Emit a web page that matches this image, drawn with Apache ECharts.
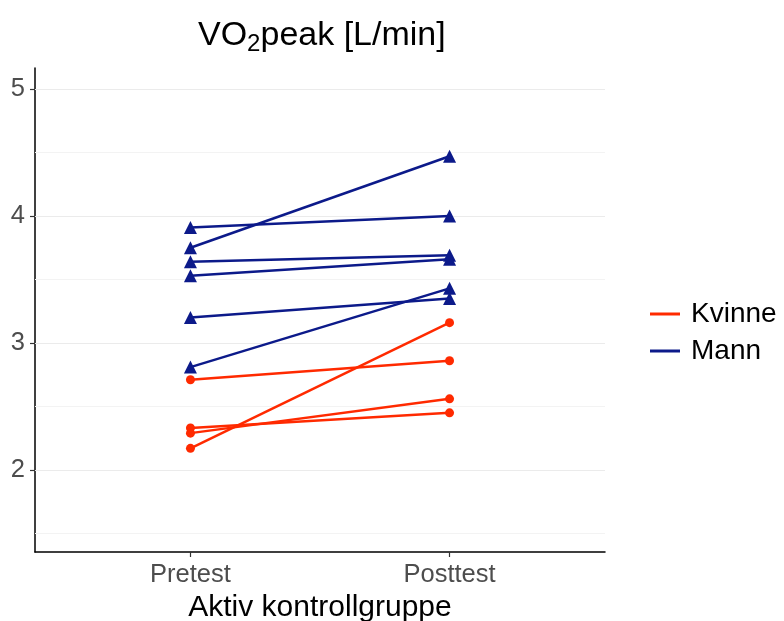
<!DOCTYPE html>
<html>
<head>
<meta charset="utf-8">
<script src="https://cdn.jsdelivr.net/npm/echarts@6/dist/echarts.min.js"></script>
<style>html,body{margin:0;padding:0;background:#fff}#c{width:784px;height:621px}</style>
</head>
<body>
<div id="c"></div>
<script>
var categories = ['Pretest', 'Posttest'];
var groups = ['Kvinne', 'Mann'];
var kvinnePre = [2.71, 2.17, 2.33, 2.29];
var kvinnePost = [2.86, 3.16, 2.45, 2.56];
var mannPre = [3.91, 3.75, 3.64, 3.53, 3.20, 2.81];
var mannPost = [4.00, 4.47, 3.69, 3.66, 3.35, 3.43];
var yTicks = [2, 3, 4, 5];
var yMinor = [1.5, 2.5, 3.5, 4.5];

var RED = '#FF2A00', BLUE = '#0C1A8A';
var FONT = 'Liberation Sans, Arial, sans-serif';

var series = [];
series.push({
  type: 'line', name: '_grid', data: [], z: 1, silent: true,
  markLine: {
    silent: true, symbol: ['none', 'none'], label: {show: false},
    animation: false, z: 1,
    data: yTicks.map(function (v) { return {yAxis: v, lineStyle: {color: '#EBEBEB', width: 1.2, type: 'solid'}}; })
      .concat(yMinor.map(function (v) { return {yAxis: v, lineStyle: {color: '#F3F3F3', width: 1, type: 'solid'}}; }))
  }
});
function addLines(pre, post, name, color, symbol, size) {
  for (var i = 0; i < pre.length; i++) {
    series.push({
      type: 'line', name: name, z: 6,
      data: [[1, pre[i]], [2, post[i]]],
      symbol: symbol, symbolSize: size, showSymbol: true,
      itemStyle: {color: color},
      lineStyle: {color: color, width: 2.5},
      animation: false
    });
  }
}
addLines(kvinnePre, kvinnePost, groups[0], RED, 'circle', 9);
addLines(mannPre, mannPost, groups[1], BLUE, 'triangle', 13);

var chart = echarts.init(document.getElementById('c'), null, {renderer: 'canvas'});
chart.setOption({
  backgroundColor: '#fff',
  animation: false,
  title: {
    text: '{a|VO}{b|2}{a|peak [L/min]}',
    left: 193, top: 11,
    textStyle: {
      fontWeight: 'normal',
      rich: {
        a: {fontFamily: FONT, fontSize: 34, fontWeight: 'normal', color: '#000', lineHeight: 40},
        b: {fontFamily: FONT, fontSize: 24, fontWeight: 'normal', color: '#000', lineHeight: 24, verticalAlign: 'bottom'}
      }
    }
  },
  legend: {
    left: 645, top: 294, orient: 'vertical',
    itemWidth: 30, itemHeight: 3, itemGap: 7,
    data: [{name: groups[0], icon: 'rect'}, {name: groups[1], icon: 'rect'}],
    textStyle: {fontFamily: FONT, fontSize: 28, color: '#000', lineHeight: 30, padding: [0, 0, 0, 6]}
  },
  grid: {left: 35, right: 179, top: 68, bottom: 69, containLabel: false, outerBoundsMode: 'none'},
  xAxis: {
    type: 'value', min: 0.4, max: 2.6,
    name: 'Aktiv kontrollgruppe', nameLocation: 'middle', nameGap: 40,
    nameTextStyle: {fontFamily: FONT, fontSize: 30, color: '#000'},
    axisLine: {show: true, onZero: false, lineStyle: {color: '#000', width: 1.5}},
    axisTick: {show: true, customValues: [1, 2], length: 5, lineStyle: {color: '#333', width: 1.2}},
    axisLabel: {
      customValues: [1, 2], margin: 10,
      fontFamily: FONT, fontSize: 25.5, color: '#4D4D4D',
      formatter: function (v) { return categories[Math.round(v) - 1] || ''; }
    },
    splitLine: {show: false}
  },
  yAxis: {
    type: 'value', min: 1.354, max: 5.165,
    axisLine: {show: true, onZero: false, lineStyle: {color: '#000', width: 1.5}},
    axisTick: {show: true, customValues: yTicks, length: 5, lineStyle: {color: '#333', width: 1.2}},
    axisLabel: {customValues: yTicks, margin: 10, fontFamily: FONT, fontSize: 25.5, color: '#4D4D4D'},
    splitLine: {show: false}
  },
  series: series
});
</script>
</body>
</html>
